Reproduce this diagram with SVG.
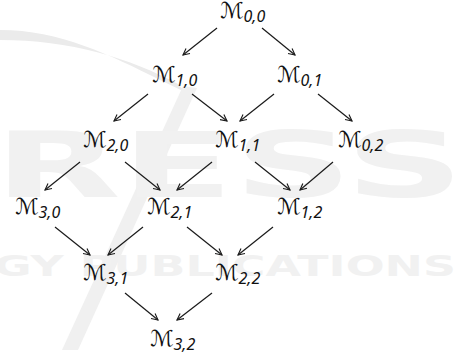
<svg xmlns="http://www.w3.org/2000/svg" width="464" height="360" viewBox="0 0 464 360">
  <style>
    .wm { fill: #f1f1f1; font-family: "DejaVu Sans", "Liberation Sans", sans-serif; font-weight: bold; }
    .lbl { font-family: "DejaVu Sans", "DejaVu Serif", serif; font-size: 22px; fill: #111; }
    .sub { font-family: "Noto Sans", "Liberation Sans", sans-serif; font-style: italic; font-size: 16px; }
    .edge { stroke: #1a1a1a; stroke-width: 1.2; fill: none; marker-end: url(#arr); }
  </style>
  <defs>
    <marker id="arr" viewBox="0 0 10 10" refX="9" refY="5" markerWidth="8" markerHeight="8" orient="auto" markerUnits="userSpaceOnUse">
      <path d="M1,1 L9,5 L1,9" fill="none" stroke="#1a1a1a" stroke-width="1.4"/>
    </marker>
  </defs>
  <rect width="464" height="360" fill="#ffffff"/>

  <!-- background mark -->
  <g id="backdrop">
    <path d="M0,30 C60,30 110,55 160,80 L185,92 L178,84 C130,58 70,40 0,40 Z" fill="#ebebeb"/>
    <path d="M183,86 L197,88 L78,350 L62,350 Z" fill="#f0f0f0"/>
    <text class="wm" x="-6" y="197" font-size="90" textLength="470" lengthAdjust="spacingAndGlyphs">RESS</text>
    <text class="wm" x="-6" y="276" font-size="28" textLength="462" lengthAdjust="spacingAndGlyphs">GY PUBLICATIONS</text>
  </g>

  <g id="connectors">
    <line class="edge" x1="217" y1="28" x2="183" y2="55"/>
    <line class="edge" x1="262" y1="28" x2="295" y2="55"/>
    <line class="edge" x1="148" y1="94" x2="114" y2="121"/>
    <line class="edge" x1="192" y1="94" x2="227" y2="121"/>
    <line class="edge" x1="274" y1="94" x2="240" y2="121"/>
    <line class="edge" x1="318" y1="94" x2="352" y2="121"/>
    <line class="edge" x1="80" y1="162" x2="45" y2="190"/>
    <line class="edge" x1="125" y1="162" x2="160" y2="190"/>
    <line class="edge" x1="212" y1="162" x2="177" y2="190"/>
    <line class="edge" x1="255" y1="162" x2="290" y2="190"/>
    <line class="edge" x1="333" y1="162" x2="300" y2="190"/>
    <line class="edge" x1="55" y1="227" x2="90" y2="255"/>
    <line class="edge" x1="143" y1="227" x2="108" y2="255"/>
    <line class="edge" x1="187" y1="227" x2="222" y2="255"/>
    <line class="edge" x1="273" y1="227" x2="238" y2="255"/>
    <line class="edge" x1="125" y1="293" x2="158" y2="320"/>
    <line class="edge" x1="212" y1="293" x2="177" y2="320"/>
  </g>

  <g id="m00"><text class="lbl" x="220" y="18">ℳ<tspan class="sub" dy="4">0,0</tspan></text></g>
  <g id="m10"><text class="lbl" x="152" y="82">ℳ<tspan class="sub" dy="4">1,0</tspan></text></g>
  <g id="m01"><text class="lbl" x="277" y="82">ℳ<tspan class="sub" dy="4">0,1</tspan></text></g>
  <g id="m20"><text class="lbl" x="83" y="147">ℳ<tspan class="sub" dy="4">2,0</tspan></text></g>
  <g id="m11"><text class="lbl" x="215" y="147">ℳ<tspan class="sub" dy="4">1,1</tspan></text></g>
  <g id="m02"><text class="lbl" x="338" y="147">ℳ<tspan class="sub" dy="4">0,2</tspan></text></g>
  <g id="m30"><text class="lbl" x="15" y="214">ℳ<tspan class="sub" dy="4">3,0</tspan></text></g>
  <g id="m21"><text class="lbl" x="147" y="214">ℳ<tspan class="sub" dy="4">2,1</tspan></text></g>
  <g id="m12"><text class="lbl" x="277" y="214">ℳ<tspan class="sub" dy="4">1,2</tspan></text></g>
  <g id="m31"><text class="lbl" x="83" y="280">ℳ<tspan class="sub" dy="4">3,1</tspan></text></g>
  <g id="m22"><text class="lbl" x="215" y="280">ℳ<tspan class="sub" dy="4">2,2</tspan></text></g>
  <g id="m32"><text class="lbl" x="150" y="346">ℳ<tspan class="sub" dy="4">3,2</tspan></text></g>
</svg>
